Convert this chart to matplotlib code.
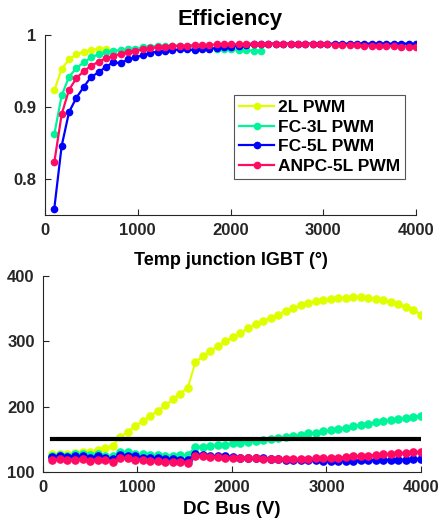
import numpy as np
import matplotlib
matplotlib.use('Agg')
import matplotlib.pyplot as plt

plt.rcParams['font.family'] = ['Liberation Sans', 'DejaVu Sans']
plt.rcParams['font.weight'] = 'bold'

# grid of DC bus voltages
x = np.linspace(100, 4000, 50)

labels = ['2L PWM', 'FC-3L PWM', 'FC-5L PWM', 'ANPC-5L PWM']
colors = ['#dfff00', '#00f59b', '#0000ff', '#ff0a64']

# efficiency (top)
eff_2l = [0.923, 0.953, 0.966, 0.973, 0.977, 0.979, 0.981, 0.981]
eff_fc3 = [0.862, 0.916, 0.942, 0.954, 0.962, 0.969, 0.973, 0.976, 0.978, 0.979,
           0.980, 0.981, 0.983, 0.984, 0.985, 0.985, 0.985, 0.985, 0.984, 0.983,
           0.982, 0.982, 0.981, 0.980, 0.980, 0.979, 0.979, 0.978, 0.978]
eff_fc5 = [0.759, 0.846, 0.893, 0.913, 0.928, 0.942, 0.948, 0.956, 0.962, 0.961,
           0.966, 0.969, 0.972, 0.975, 0.977, 0.978, 0.979, 0.980, 0.980, 0.979,
           0.980, 0.981, 0.982, 0.983, 0.984, 0.985, 0.986, 0.987, 0.987, 0.988,
           0.988, 0.988, 0.988, 0.988, 0.988, 0.988, 0.988, 0.988, 0.988, 0.988,
           0.988, 0.988, 0.988, 0.988, 0.988, 0.988, 0.988, 0.988, 0.988, 0.987]
eff_anpc = [0.823, 0.890, 0.924, 0.940, 0.950, 0.957, 0.963, 0.968, 0.971, 0.974,
            0.976, 0.978, 0.980, 0.9815, 0.983, 0.984, 0.985, 0.985, 0.985, 0.986,
            0.986, 0.986, 0.987, 0.987, 0.987, 0.987, 0.988, 0.988, 0.988, 0.988,
            0.988, 0.988, 0.988, 0.988, 0.988, 0.9875, 0.987, 0.987, 0.9865, 0.986,
            0.986, 0.9855, 0.985, 0.985, 0.985, 0.9845, 0.9845, 0.984, 0.984, 0.984]

# junction temperature (bottom)
tj_2l = [127, 128, 128, 129, 130, 130, 134, 137, 140, 154,
         161, 170, 178, 186, 194, 202, 211, 220, 229, 268,
         277, 285, 293, 300, 307, 313, 320, 326, 331, 336,
         341, 347, 351, 355, 358, 361, 363, 365, 366, 367,
         368, 368, 367, 365, 363, 360, 357, 353, 348, 341]
tj_fc3 = [124, 126, 125, 127, 127, 126, 127, 125, 124, 131,
          130, 128, 127, 126, 126, 125, 125, 126, 126, 138,
          139, 140, 141, 142, 144, 145, 146, 147, 149, 150,
          152, 154, 155, 157, 159, 160, 162, 164, 166, 168,
          170, 172, 174, 176, 178, 179, 181, 182, 184, 186]
tj_fc5 = [123, 125, 123, 124, 124, 122, 124, 122, 120, 126,
          125, 124, 122, 122, 121, 120, 120, 119, 119, 127,
          126, 125, 124, 124, 123, 122, 122, 121, 121, 120,
          120, 119, 119, 118, 118, 118, 117, 117, 117, 117,
          117, 118, 118, 118, 118, 119, 119, 119, 120, 120]
tj_anpc = [118, 120, 118, 119, 120, 117, 119, 118, 116, 121,
           121, 119, 118, 117, 117, 116, 115, 115, 114, 124,
           124, 123, 123, 122, 122, 121, 121, 121, 120, 120,
           120, 120, 120, 120, 120, 121, 121, 122, 122, 123,
           124, 125, 125, 126, 127, 128, 129, 129, 130, 131]
tj_limit = 150

dark = '#262626'

fig = plt.figure(figsize=(4.4, 5.27), dpi=100)
ax1 = fig.add_axes([0.1023, 0.592, 0.8432, 0.3416])
ax2 = fig.add_axes([0.0977, 0.1044, 0.8591, 0.3719])

effs = [eff_2l, eff_fc3, eff_fc5, eff_anpc]
for e, c, lab in zip(effs, colors, labels):
    ax1.plot(x[:len(e)], e, '-o', color=c, lw=1.6, ms=4.5, label=lab)
ax1.set_xlim(0, 4000)
ax1.set_ylim(0.75, 1)
ax1.set_yticks([0.8, 0.9, 1])
ax1.set_yticklabels(['0.8', '0.9', '1'])
ax1.set_xticks([0, 1000, 2000, 3000, 4000])
ax1.set_title('Efficiency', fontsize=16, fontweight='bold', pad=7)
ax1.set_xlabel('Temp junction IGBT (°)', fontsize=13, fontweight='bold', labelpad=10)
leg = ax1.legend(loc='upper left', bbox_to_anchor=(0.51, 0.667), fontsize=12.5,
                 fancybox=False, framealpha=1, edgecolor='#555555',
                 handlelength=2.0, handletextpad=0.2, borderpad=0.3,
                 labelspacing=0.25, borderaxespad=0)
leg.get_frame().set_linewidth(0.8)

tjs = [tj_2l, tj_fc3, tj_fc5, tj_anpc]
for t, c in zip(tjs, colors):
    ax2.plot(x, t, '-o', color=c, lw=1.5, ms=5.2)
ax2.plot([x[0], x[-1]], [tj_limit, tj_limit], color='black', lw=3)
ax2.set_xlim(0, 4000)
ax2.set_ylim(100, 400)
ax2.set_yticks([100, 200, 300, 400])
ax2.set_xticks([0, 1000, 2000, 3000, 4000])
ax2.set_xlabel('DC Bus (V)', fontsize=13.5, fontweight='bold', labelpad=4)

for ax in (ax1, ax2):
    for s in ('top', 'right'):
        ax.spines[s].set_visible(False)
    for s in ('left', 'bottom'):
        ax.spines[s].set_color(dark)
        ax.spines[s].set_linewidth(0.8)
    ax.tick_params(direction='in', length=4, width=0.8, colors=dark,
                   labelsize=12, pad=6)
    for lbl in ax.get_xticklabels() + ax.get_yticklabels():
        lbl.set_fontweight('bold')

fig.savefig('out.png', dpi=100)
